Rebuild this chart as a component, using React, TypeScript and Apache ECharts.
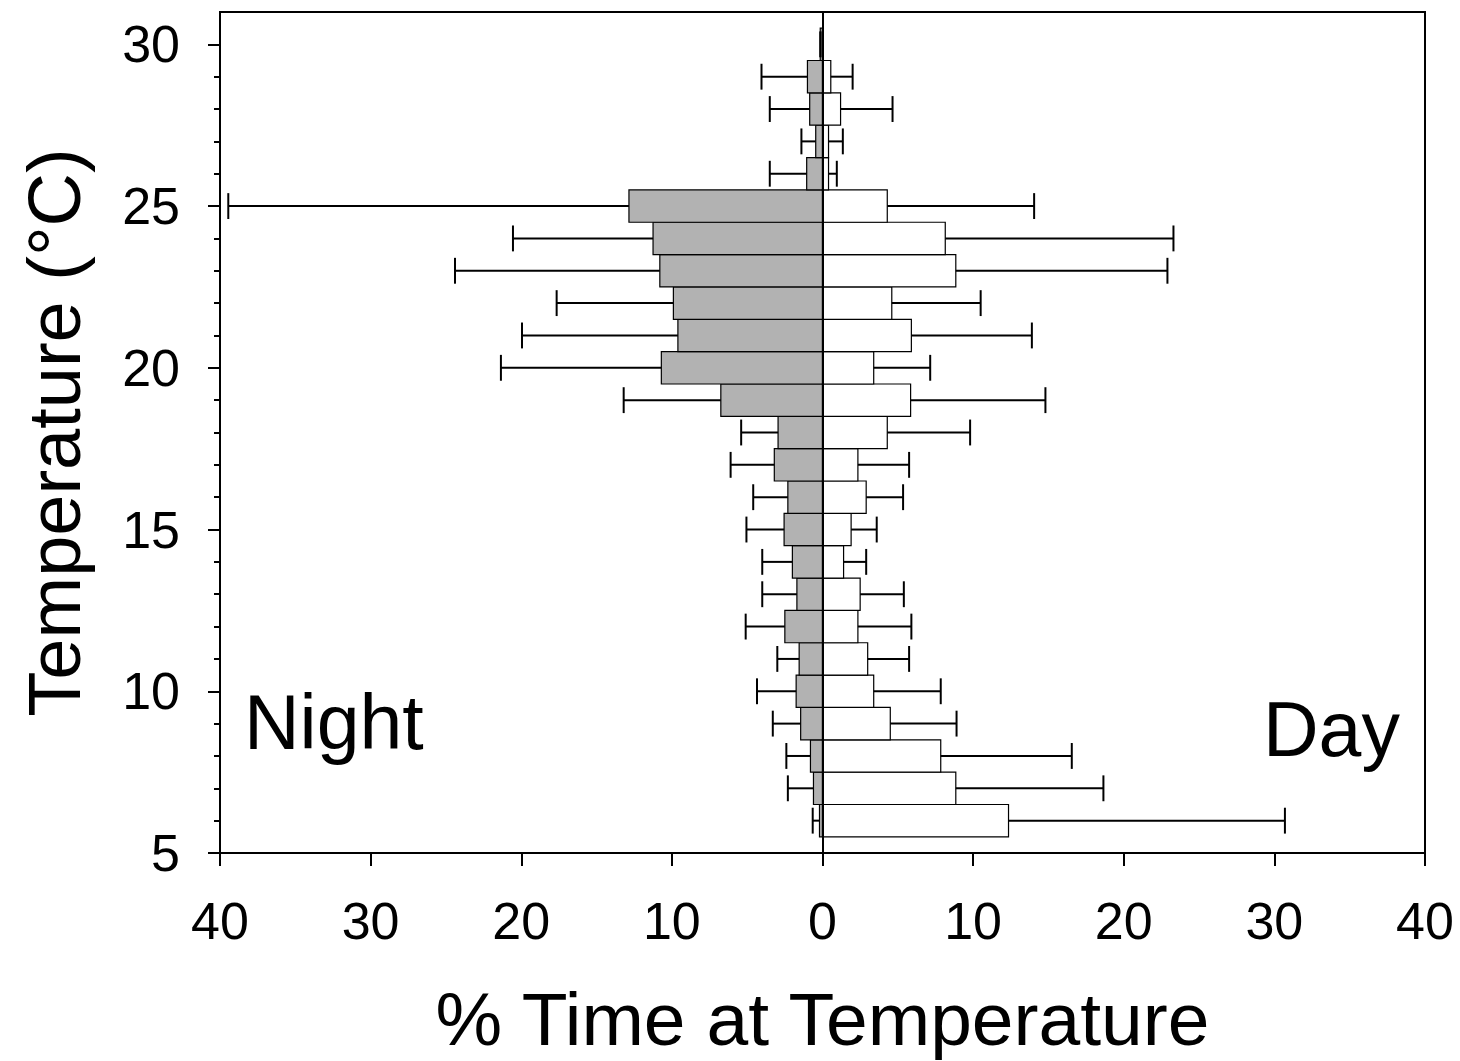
import React, { useEffect, useRef } from "react";
import * as echarts from "echarts";

// Temperature bins (°C, bin centres, 1 °C wide)
const temperatures = [6, 7, 8, 9, 10, 11, 12, 13, 14, 15, 16, 17, 18, 19, 20, 21, 22, 23, 24, 25, 26, 27, 28, 29, 30];

// % time at temperature during the night (plotted to the left) and its SD
const nightMean = [0.2, 0.6, 0.8, 1.45, 1.75, 1.55, 2.5, 1.7, 2.0, 2.55, 2.3, 3.2, 2.95, 6.75, 10.7, 9.6, 9.9, 10.8, 11.25, 12.85, 1.05, 0.45, 0.85, 1.0, 0.15];
const nightSd = [0.45, 1.7, 1.6, 1.85, 2.6, 1.45, 2.6, 2.3, 2.0, 2.5, 2.3, 2.9, 2.45, 6.45, 10.65, 10.35, 7.75, 13.6, 9.3, 26.6, 2.45, 0.95, 2.65, 3.05, 0];

// % time at temperature during the day (plotted to the right) and its SD
const dayMean = [12.35, 8.85, 7.85, 4.5, 3.4, 3.0, 2.35, 2.5, 1.4, 1.9, 2.9, 2.35, 4.3, 5.85, 3.4, 5.9, 4.6, 8.85, 8.15, 4.3, 0.4, 0.4, 1.2, 0.55, 0];
const daySd = [18.35, 9.8, 8.7, 4.4, 4.45, 2.75, 3.55, 2.9, 1.5, 1.7, 2.45, 3.4, 5.5, 8.95, 3.75, 8.0, 5.9, 14.05, 15.15, 9.75, 0.55, 0.95, 3.45, 1.45, 0];

const xTickValues = [-40, -30, -20, -10, 0, 10, 20, 30, 40];
const yLabelValues = [5, 10, 15, 20, 25, 30];

const FONT = "'Liberation Sans', Arial, Helvetica, sans-serif";
const BIN = 1;

export default function App() {
  const ref = useRef<HTMLDivElement>(null);

  useEffect(() => {
    if (!ref.current) return;
    const chart = echarts.init(ref.current, undefined, { renderer: "svg" });

    const nightBars = temperatures.map((t, i) => [t, -nightMean[i]]);
    const dayBars = temperatures.map((t, i) => [t, dayMean[i]]);
    const nightErr = temperatures.map((t, i) => [t, -nightMean[i], -(nightMean[i] + nightSd[i])]);
    const dayErr = temperatures.map((t, i) => [t, dayMean[i], dayMean[i] + daySd[i]]);

    const barRender = (fill: string) => (params: any, api: any) => {
      const t = api.value(0);
      const v = api.value(1);
      const a = api.coord([0, t + BIN / 2]);
      const b = api.coord([v, t - BIN / 2]);
      return {
        type: "rect",
        shape: {
          x: Math.min(a[0], b[0]),
          y: Math.min(a[1], b[1]),
          width: Math.abs(b[0] - a[0]),
          height: Math.abs(b[1] - a[1]),
        },
        style: { fill, stroke: "#000", lineWidth: 1.2 },
      };
    };

    const errRender = (params: any, api: any) => {
      const t = api.value(0);
      const from = api.coord([api.value(1), t]);
      const to = api.coord([api.value(2), t]);
      const capTop = api.coord([api.value(2), t + 0.4]);
      const capBot = api.coord([api.value(2), t - 0.4]);
      const style = { stroke: "#000", lineWidth: 2 };
      return {
        type: "group",
        children: [
          { type: "line", shape: { x1: from[0], y1: from[1], x2: to[0], y2: to[1] }, style },
          { type: "line", shape: { x1: capTop[0], y1: capTop[1], x2: capBot[0], y2: capBot[1] }, style },
        ],
      };
    };

    chart.setOption({
      animation: false,
      backgroundColor: "#fff",
      textStyle: { fontFamily: FONT, color: "#000" },
      grid: {
        left: 220,
        right: 35,
        top: 12,
        bottom: 208,
        show: true,
        borderColor: "#000",
        borderWidth: 2,
        backgroundColor: "transparent",
      },
      xAxis: {
        type: "value",
        min: -40,
        max: 40,
        interval: 10,
        name: "% Time at Temperature",
        nameLocation: "middle",
        nameGap: 128,
        nameTextStyle: { fontSize: 75, color: "#000", fontFamily: FONT },
        axisLine: { show: true, onZero: false, lineStyle: { color: "#000", width: 2 } },
        axisTick: { show: true, inside: false, length: 13, lineStyle: { color: "#000", width: 2 }, customValues: xTickValues },
        axisLabel: {
          show: true,
          margin: 42,
          fontSize: 52,
          color: "#000",
          fontFamily: FONT,
          customValues: xTickValues,
          formatter: (v: number) => String(Math.abs(v)),
        },
        splitLine: { show: false },
      },
      yAxis: {
        type: "value",
        min: 5,
        max: 31,
        interval: 5,
        name: "Temperature (°C)",
        nameLocation: "middle",
        nameGap: 129,
        nameRotate: 90,
        nameTextStyle: { fontSize: 74, color: "#000", fontFamily: FONT },
        axisLine: { show: true, onZero: false, lineStyle: { color: "#000", width: 2 } },
        axisTick: { show: true, inside: false, length: 12, lineStyle: { color: "#000", width: 2 }, customValues: yLabelValues },
        minorTick: { show: true, splitNumber: 5, length: 6, lineStyle: { color: "#000", width: 2 } },
        axisLabel: {
          show: true,
          margin: 40,
          fontSize: 52,
          color: "#000",
          fontFamily: FONT,
          customValues: yLabelValues,
        },
        splitLine: { show: false },
        minorSplitLine: { show: false },
      },
      series: [
        {
          name: "Night",
          type: "custom",
          renderItem: barRender("#b2b2b2"),
          encode: { x: 1, y: 0 },
          data: nightBars,
          z: 2,
        },
        {
          name: "Day",
          type: "custom",
          renderItem: barRender("#fff"),
          encode: { x: 1, y: 0 },
          data: dayBars,
          z: 2,
        },
        {
          name: "Night SD",
          type: "custom",
          renderItem: errRender,
          encode: { x: [1, 2], y: 0 },
          data: nightErr,
          z: 3,
        },
        {
          name: "Day SD",
          type: "custom",
          renderItem: errRender,
          encode: { x: [1, 2], y: 0 },
          data: dayErr,
          z: 3,
          markLine: {
            silent: true,
            symbol: "none",
            label: { show: false },
            lineStyle: { color: "#000", width: 2, type: "solid" },
            data: [{ xAxis: 0 }],
            z: 4,
          },
        },
      ],
      graphic: [
        {
          type: "text",
          left: 244,
          top: 683,
          style: { text: "Night", fontSize: 77, fontFamily: FONT, fill: "#000" },
        },
        {
          type: "text",
          left: 1263,
          top: 690,
          style: { text: "Day", fontSize: 77, fontFamily: FONT, fill: "#000" },
        },
      ],
    });

    return () => chart.dispose();
  }, []);

  return (
    <div
      ref={ref}
      style={{ position: "absolute", left: 0, top: 0, width: 1460, height: 1061, background: "#fff" }}
    />
  );
}
